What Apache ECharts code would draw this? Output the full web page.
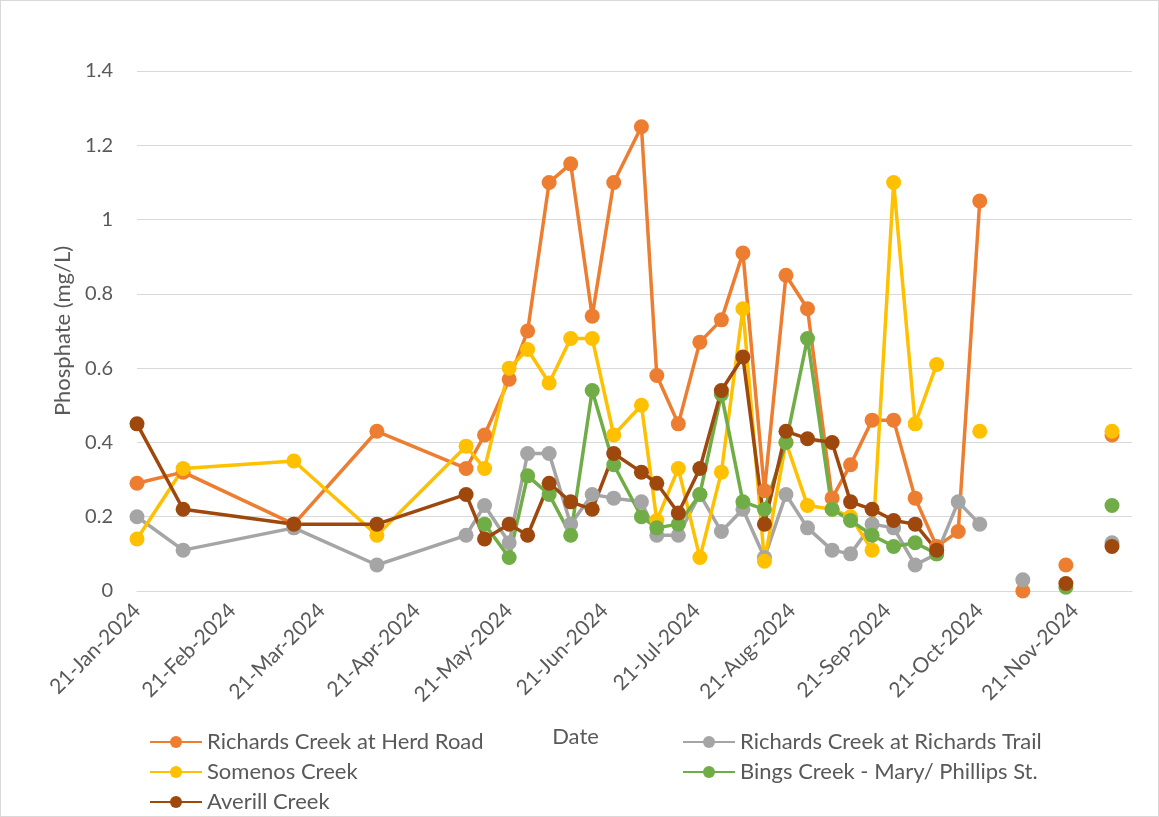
<!DOCTYPE html>
<html>
<head>
<meta charset="utf-8">
<script src="https://cdn.jsdelivr.net/npm/echarts@6/dist/echarts.min.js"></script>
<style>
html,body{margin:0;padding:0;background:#fff;}
#chart{width:1159px;height:817px;box-sizing:border-box;border:1px solid #d9d9d9;}
</style>
</head>
<body>
<div id="chart"></div>
<script>
const dates = ['2024-01-21','2024-02-05','2024-03-12','2024-04-08','2024-05-07','2024-05-13',
  '2024-05-21','2024-05-27','2024-06-03','2024-06-10','2024-06-17','2024-06-24',
  '2024-07-03','2024-07-08','2024-07-15','2024-07-22','2024-07-29',
  '2024-08-05','2024-08-12','2024-08-19','2024-08-26',
  '2024-09-03','2024-09-09','2024-09-16','2024-09-23','2024-09-30',
  '2024-10-07','2024-10-14','2024-10-21','2024-10-28',
  '2024-11-04','2024-11-11','2024-11-18','2024-11-25',
  '2024-12-03'];
const herdRoad = [0.29,0.32,0.18,0.43,0.33,0.42, 0.57,0.70,1.10,1.15,0.74,1.10, 1.25,0.58,0.45,0.67,0.73,
  0.91,0.27,0.85,0.76, 0.25,0.34,0.46,0.46,0.25, 0.12,0.16,1.05,null, 0.00,null,0.07,null, 0.42];
const richardsTrail = [0.20,0.11,0.17,0.07,0.15,0.23, 0.13,0.37,0.37,0.18,0.26,0.25, 0.24,0.15,0.15,0.26,0.16,
  0.22,0.09,0.26,0.17, 0.11,0.10,0.18,0.17,0.07, 0.10,0.24,0.18,null, 0.03,null,null,null, 0.13];
const somenos = [0.14,0.33,0.35,0.15,0.39,0.33, 0.60,0.65,0.56,0.68,0.68,0.42, 0.50,0.19,0.33,0.09,0.32,
  0.76,0.08,0.40,0.23, 0.22,0.20,0.11,1.10,0.45, 0.61,null,0.43,null, null,null,null,null, 0.43];
const bings = [null,null,null,null,null,0.18, 0.09,0.31,0.26,0.15,0.54,0.34, 0.20,0.17,0.18,0.26,0.53,
  0.24,0.22,0.40,0.68, 0.22,0.19,0.15,0.12,0.13, 0.10,null,null,null, null,null,0.01,null, 0.23];
const averill = [0.45,0.22,0.18,0.18,0.26,0.14, 0.18,0.15,0.29,0.24,0.22,0.37, 0.32,0.29,0.21,0.33,0.54,
  0.63,0.18,0.43,0.41, 0.40,0.24,0.22,0.19,0.18, 0.11,null,null,null, null,null,0.02,null, 0.12];
const seriesNames = ['Richards Creek at Herd Road','Richards Creek at Richards Trail','Somenos Creek',
  'Bings Creek - Mary/ Phillips St.','Averill Creek'];
const tickDates = ['2024-01-21','2024-02-21','2024-03-21','2024-04-21','2024-05-21','2024-06-21',
  '2024-07-21','2024-08-21','2024-09-21','2024-10-21','2024-11-21'];
const monthNames = ['Jan','Feb','Mar','Apr','May','Jun','Jul','Aug','Sep','Oct','Nov','Dec'];

const colors = ['#ED7D31','#A5A5A5','#FFC000','#70AD47','#9E480E'];
const FONT = 'Lato, "Noto Sans", sans-serif';
const TXT = '#595959';

function ts(s){ const p = s.split('-').map(Number); return new Date(p[0], p[1]-1, p[2]).getTime(); }
function fmt(v){ const d = new Date(v); return d.getDate() + '-' + monthNames[d.getMonth()] + '-' + d.getFullYear(); }

const allValues = [herdRoad, richardsTrail, somenos, bings, averill];
const series = allValues.map((vals, i) => ({
  name: seriesNames[i],
  type: 'line',
  data: dates.map((d, j) => [ts(d), vals[j]]),
  connectNulls: false,
  symbol: 'circle',
  symbolSize: 15,
  showAllSymbol: true,
  lineStyle: {width: 3.5, color: colors[i]},
  itemStyle: {color: colors[i]},
  emphasis: {disabled: true},
  animation: false
}));

const chart = echarts.init(document.getElementById('chart'), null, {renderer: 'canvas'});
const legendBase = {
  orient: 'vertical', itemWidth: 52, itemHeight: 15, itemGap: 8, padding: 0, height: 120,
  textStyle: {fontFamily: FONT, fontSize: 22, color: TXT},
  selectedMode: false
};
chart.setOption({
  color: colors,
  animation: false,
  grid: {left: 136, right: 26, top: 70, bottom: 225, containLabel: false},
  legend: [
    Object.assign({}, legendBase, {left: 148, top: 730, data: [seriesNames[0], seriesNames[2], seriesNames[4]]}),
    Object.assign({}, legendBase, {left: 681, top: 730, data: [seriesNames[1], seriesNames[3]]})
  ],
  xAxis: {
    type: 'value',
    min: ts('2024-01-21'),
    max: ts('2024-12-09') + 12*3600*1000,
    name: 'Date',
    nameLocation: 'middle',
    nameGap: 135,
    nameTextStyle: {fontFamily: FONT, fontSize: 22, color: TXT, padding: [0, 118, 0, 0]},
    axisLine: {show: true, lineStyle: {color: '#d9d9d9', width: 1}},
    axisTick: {show: false},
    splitLine: {show: false},
    axisLabel: {
      customValues: tickDates.map(ts),
      rotate: 45,
      margin: 16,
      fontFamily: FONT, fontSize: 21, color: TXT,
      formatter: (v) => fmt(v),
      hideOverlap: false
    }
  },
  yAxis: {
    type: 'value',
    min: 0, max: 1.4, interval: 0.2,
    name: 'Phosphate (mg/L)',
    nameLocation: 'middle',
    nameGap: 62,
    nameTextStyle: {fontFamily: FONT, fontSize: 22, color: TXT},
    axisLine: {show: false},
    axisTick: {show: false},
    splitLine: {show: true, lineStyle: {color: '#d9d9d9', width: 1}},
    axisLabel: {fontFamily: FONT, fontSize: 20, color: TXT, margin: 24,
      formatter: (v) => String(Math.round(v*10)/10)}
  },
  series: series
});
</script>
</body>
</html>
